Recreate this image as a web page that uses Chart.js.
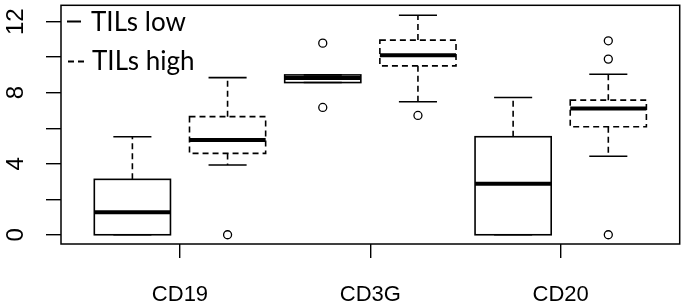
<!DOCTYPE html>
<html>
<head>
<meta charset="utf-8">
<script src="https://cdn.jsdelivr.net/npm/chart.js@4/dist/chart.umd.min.js"></script>
<style>
  body { margin: 0; background: #fff; }
  canvas { display: block; }
</style>
</head>
<body>
<canvas id="myChart" width="685" height="305"></canvas>
<script>
// categories and the two series
const categories = ['CD19', 'CD3G', 'CD20'];
const seriesNames = ['TILs low', 'TILs high'];

const lowMin    = [0,    8.57, 0];
const lowQ1     = [0,    8.57, 0];
const lowMedian = [1.27, 8.82, 2.87];
const lowQ3     = [3.12, 9.0,  5.52];
const lowMax    = [5.52, 9.0,  7.73];
const lowOutliers = [[], [10.79, 7.17], []];

const highMin    = [3.93, 7.49,  4.42];
const highQ1     = [4.58, 9.51,  6.08];
const highMedian = [5.34, 10.11, 7.11];
const highQ3     = [6.65, 10.96, 7.58];
const highMax    = [8.85, 12.36, 9.04];
const highOutliers = [[0], [6.72], [0, 9.89, 10.92]];

const yTicks = [0, 2, 4, 6, 8, 10, 12];
const yLabelled = [0, 4, 8, 12];

const series = [
  { min: lowMin, q1: lowQ1, med: lowMedian, q3: lowQ3, max: lowMax, out: lowOutliers, dash: [] },
  { min: highMin, q1: highQ1, med: highMedian, q3: highQ3, max: highMax, out: highOutliers, dash: [6, 4] }
];

// box i of series s sits at position 2*i + s + 1, category tick between them
function boxPos(i, s) { return 2 * i + s + 1; }

const outlierSets = series.map((sr, s) => ({
  label: seriesNames[s],
  data: sr.out.flatMap((vals, i) => vals.map(v => ({ x: boxPos(i, s), y: v }))),
  pointRadius: 4,
  pointHoverRadius: 4,
  pointBackgroundColor: '#fff',
  pointBorderColor: '#000',
  pointBorderWidth: 1.3
}));

const boxPlugin = {
  id: 'boxes',
  beforeDatasetsDraw(chart) {
    const ctx = chart.ctx;
    const x = chart.scales.x, y = chart.scales.y;
    ctx.save();
    ctx.strokeStyle = '#000';
    series.forEach((sr, s) => {
      categories.forEach((c, i) => {
        const p = boxPos(i, s);
        const xc = x.getPixelForValue(p);
        const half = x.getPixelForValue(p + 0.4) - xc;
        const yMin = y.getPixelForValue(sr.min[i]);
        const yQ1 = y.getPixelForValue(sr.q1[i]);
        const yMed = y.getPixelForValue(sr.med[i]);
        const yQ3 = y.getPixelForValue(sr.q3[i]);
        const yMax = y.getPixelForValue(sr.max[i]);
        ctx.lineWidth = 1.6;
        // whiskers (dashed)
        ctx.setLineDash([6, 4]);
        ctx.beginPath();
        ctx.moveTo(xc, yQ3); ctx.lineTo(xc, yMax);
        ctx.moveTo(xc, yQ1); ctx.lineTo(xc, yMin);
        ctx.stroke();
        // staples
        ctx.setLineDash([]);
        ctx.beginPath();
        ctx.moveTo(xc - half / 2, yMax); ctx.lineTo(xc + half / 2, yMax);
        ctx.moveTo(xc - half / 2, yMin); ctx.lineTo(xc + half / 2, yMin);
        ctx.stroke();
        // box
        ctx.setLineDash(sr.dash);
        ctx.strokeRect(xc - half, yQ3, half * 2, yQ1 - yQ3);
        // median
        ctx.setLineDash([]);
        ctx.lineWidth = 4;
        ctx.beginPath();
        ctx.moveTo(xc - half, yMed); ctx.lineTo(xc + half, yMed);
        ctx.stroke();
      });
    });
    ctx.restore();
  },
  afterDraw(chart) {
    const ctx = chart.ctx;
    const a = chart.chartArea;
    ctx.save();
    ctx.strokeStyle = '#000';
    ctx.lineWidth = 1.5;
    ctx.strokeRect(a.left, a.top, a.right - a.left, a.bottom - a.top);
    // legend in the top left corner
    ctx.fillStyle = '#000';
    ctx.font = '26px Lato';
    ctx.textBaseline = 'alphabetic';
    ctx.lineWidth = 2;
    ctx.beginPath();
    ctx.moveTo(a.left + 6, 21.5); ctx.lineTo(a.left + 20, 21.5);
    ctx.stroke();
    ctx.setLineDash([6, 4]);
    ctx.beginPath();
    ctx.moveTo(a.left + 7, 61.5); ctx.lineTo(a.left + 23, 61.5);
    ctx.stroke();
    ctx.fillText(seriesNames[0], a.left + 30, 30.5);
    ctx.fillText(seriesNames[1], a.left + 31, 70);
    ctx.restore();
  }
};

const context = document.getElementById('myChart');
const myChart = new Chart(context, {
  type: 'scatter',
  data: { datasets: outlierSets },
  options: {
    responsive: false,
    animation: false,
    layout: { padding: { top: 4, right: 3, left: 0, bottom: 0 } },
    plugins: { legend: { display: false }, tooltip: { enabled: false } },
    scales: {
      x: {
        type: 'linear',
        min: 0.25,
        max: 6.75,
        afterBuildTicks: s => { s.ticks = categories.map((c, i) => ({ value: boxPos(i, 0) + 0.5 })); },
        afterFit: s => { s.height = 61; s.paddingLeft = 0; s.paddingRight = 0; },
        ticks: {
          callback: (v, idx) => categories[idx],
          color: '#000',
          font: { family: 'Liberation Sans', size: 22 },
          padding: 24,
          maxRotation: 0
        },
        grid: { drawOnChartArea: false, tickLength: 14, color: '#000', lineWidth: 1.4 },
        border: { display: false }
      },
      y: {
        min: -0.52,
        max: 12.92,
        afterBuildTicks: s => { s.ticks = yTicks.map(v => ({ value: v })); },
        afterFit: s => { s.width = 61; s.paddingTop = 0; s.paddingBottom = 0; },
        ticks: {
          callback: v => yLabelled.includes(v) ? String(v) : '',
          color: '#000',
          font: { family: 'Liberation Sans', size: 24 },
          minRotation: 90,
          maxRotation: 90,
          crossAlign: 'center',
          padding: 16
        },
        grid: { drawOnChartArea: false, tickLength: 15, color: '#000', lineWidth: 1.4 },
        border: { display: false }
      }
    }
  },
  plugins: [boxPlugin]
});
</script>
</body>
</html>
